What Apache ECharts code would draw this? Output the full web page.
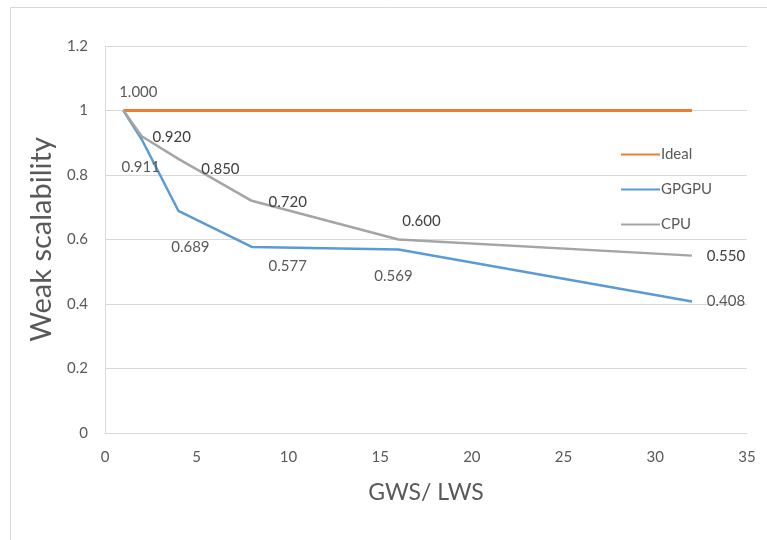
<!DOCTYPE html>
<html>
<head>
<meta charset="utf-8">
<script src="https://cdn.jsdelivr.net/npm/echarts@6/dist/echarts.min.js"></script>
<style>html,body{margin:0;padding:0;background:#fff}#c{width:767px;height:540px}</style>
</head>
<body>
<div id="c"></div>
<script>
const xValues = [1, 2, 4, 8, 16, 32];
const idealValues = [1, 1, 1, 1, 1, 1];
const gpgpuValues = [1.000, 0.911, 0.689, 0.577, 0.569, 0.408];
const cpuValues = [1.000, 0.920, 0.850, 0.720, 0.600, 0.550];
const yTicks = [0, 0.2, 0.4, 0.6, 0.8, 1, 1.2];

// label offsets (pixels from point to label center); null = no label
const idealLabelOffsets = [[15, -18], null, null, null, null, null];
const gpgpuLabelOffsets = [null, [-1, 28], [12, 36], [36, 19], [-5, 27], [34, 0]];
const cpuLabelOffsets = [null, [30, 1], [42, 10], [36, 1], [23, -18], [34, 1]];

const FONT = 'Lato, "Open Sans", sans-serif';

function build(vals, offs, color) {
  return vals.map((v, i) => {
    const item = { value: [xValues[i], v] };
    if (offs[i]) {
      item.label = {
        show: true, position: 'inside', align: 'center', verticalAlign: 'middle',
        offset: offs[i], formatter: () => v.toFixed(3),
        color: color, fontSize: 15, fontFamily: FONT
      };
    } else {
      item.label = { show: false };
    }
    return item;
  });
}

const chart = echarts.init(document.getElementById('c'), null, { renderer: 'canvas' });
chart.setOption({
  animation: false,
  backgroundColor: '#fff',
  graphic: [{
    type: 'rect', shape: { x: 10.5, y: 7.5, width: 800, height: 600 },
    style: { fill: 'none', stroke: '#d9d9d9', lineWidth: 1 }, silent: true
  }],
  grid: { left: 105, right: 20, top: 46, bottom: 107, containLabel: false },
  legend: {
    orient: 'vertical', left: 616, top: 142, itemGap: 20, itemWidth: 39, itemHeight: 18,
    icon: 'path://M0,8L40,8L40,10L0,10Z',
    textStyle: { color: '#595959', fontSize: 15, fontFamily: FONT, padding: [0, 0, 0, -4] },
    data: ['Ideal', 'GPGPU', 'CPU']
  },
  xAxis: {
    type: 'value', min: 0, max: 35, interval: 5,
    name: 'GWS/ LWS', nameLocation: 'middle', nameGap: 48,
    nameTextStyle: { color: '#595959', fontSize: 23, fontFamily: FONT },
    axisLine: { show: true, lineStyle: { color: '#d9d9d9' } },
    axisTick: { show: false },
    splitLine: { show: false },
    axisLabel: { color: '#595959', fontSize: 15, fontFamily: FONT, margin: 17 }
  },
  yAxis: {
    type: 'value', min: 0, max: 1.2, interval: 0.2,
    name: 'Weak scalability', nameLocation: 'middle', nameGap: 46,
    nameTextStyle: { color: '#595959', fontSize: 29, fontFamily: FONT },
    axisLine: { show: true, lineStyle: { color: '#d9d9d9' } },
    axisTick: { show: false },
    splitLine: { show: true, lineStyle: { color: '#d9d9d9' } },
    axisLabel: {
      color: '#595959', fontSize: 15, fontFamily: FONT, margin: 17,
      formatter: v => { const t = yTicks.find(k => Math.abs(k - v) < 1e-6); return String(+(t !== undefined ? t : v).toFixed(1)); }
    }
  },
  series: [
    { name: 'Ideal', type: 'line', data: build(idealValues, idealLabelOffsets, '#595959'),
      symbol: 'circle', symbolSize: 0.01, showSymbol: true, color: '#ED7D31',
      lineStyle: { width: 3, color: '#ED7D31' }, itemStyle: { color: '#ED7D31' }, z: 3 },
    { name: 'GPGPU', type: 'line', data: build(gpgpuValues, gpgpuLabelOffsets, '#595959'),
      symbol: 'circle', symbolSize: 0.01, showSymbol: true, color: '#5B9BD5',
      lineStyle: { width: 2.5, color: '#5B9BD5' }, itemStyle: { color: '#5B9BD5' }, z: 2 },
    { name: 'CPU', type: 'line', data: build(cpuValues, cpuLabelOffsets, '#404040'),
      symbol: 'circle', symbolSize: 0.01, showSymbol: true, color: '#A5A5A5',
      lineStyle: { width: 2.5, color: '#A5A5A5' }, itemStyle: { color: '#A5A5A5' }, z: 4 }
  ]
});
</script>
</body>
</html>
